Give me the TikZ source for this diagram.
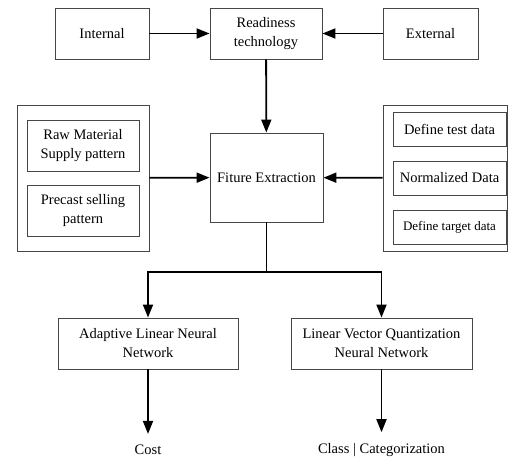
\documentclass[tikz,border=0pt]{standalone}
\usepackage{fontspec}
\setmainfont{Liberation Serif}
\usepackage{tikz}
\usetikzlibrary{arrows.meta,positioning,calc}
\definecolor{cajaGris}{RGB}{70,70,70}
\tikzset{
  caja/.style={draw=cajaGris,line width=0.9pt,align=center,inner sep=2pt,
               font=\fontsize{14.5}{19}\selectfont},
  flecha/.style={line width=1.8pt,-{Triangle[length=13pt,width=10pt]}},
  salida/.style={font=\fontsize{14.5}{19}\selectfont,inner sep=0pt}
}

\begin{document}
\begin{tikzpicture}[x=1pt,y=-1pt]
\useasboundingbox (0,0) rectangle (508,462);
% fila superior
\node[caja,minimum width=94pt,minimum height=51pt] (int) at (102,33.5) {Internal};
\node[caja,minimum width=112pt,minimum height=51pt] (ready) at (266,33.5) {Readiness\\technology};
\node[caja,minimum width=95pt,minimum height=51pt] (ext) at (430.5,33.5) {External};
% grupos laterales
\node[caja,minimum width=132pt,minimum height=146pt] (izq) at (83,178) {};
\node[caja,minimum width=112pt,minimum height=51pt] (raw) at (83,145.5) {Raw Material\\Supply pattern};
\node[caja,minimum width=112pt,minimum height=51pt] (pre) at (83,210.5) {Precast selling\\pattern};
\node[caja,minimum width=124.5pt,minimum height=146pt] (der) at (445.25,178) {};
\node[caja,minimum width=113pt,minimum height=34pt] (test) at (449.5,129) {Define test data};
\node[caja,minimum width=113pt,minimum height=34pt] (norm) at (449.5,178) {Normalized Data};
\node[caja,minimum width=113pt,minimum height=34pt,font=\fontsize{13}{16}\selectfont] (targ) at (449.5,227) {Define target data};
\node[caja,minimum width=113pt,minimum height=89pt] (fit) at (266.5,177.5) {Fiture Extraction};
% redes
\node[caja,minimum width=180pt,minimum height=51pt] (adal) at (148,343.5) {Adaptive Linear Neural\\Network};
\node[caja,minimum width=181pt,minimum height=51pt] (lvq) at (381.5,343.5) {Linear Vector Quantization\\Neural Network};
\node[salida] (cost) at (148,450) {Cost};
\node[salida] (clase) at (381.5,450) {Class | Categorization};
\coordinate (split) at (266.5,272);
% conexiones
\draw[flecha] (int) -- (ready);
\draw[flecha] (ext) -- (ready);
\draw[flecha] (ready) -- (fit);
\draw[flecha] (izq) -- (fit);
\draw[flecha] (der) -- (fit);
\draw[flecha] (fit) -- (split) -| (adal);
\draw[flecha] (split) -| (lvq);
\draw[flecha,shorten >=11pt] (adal) -- (cost);
\draw[flecha,shorten >=11pt] (lvq) -- (clase);
\end{tikzpicture}
\end{document}
